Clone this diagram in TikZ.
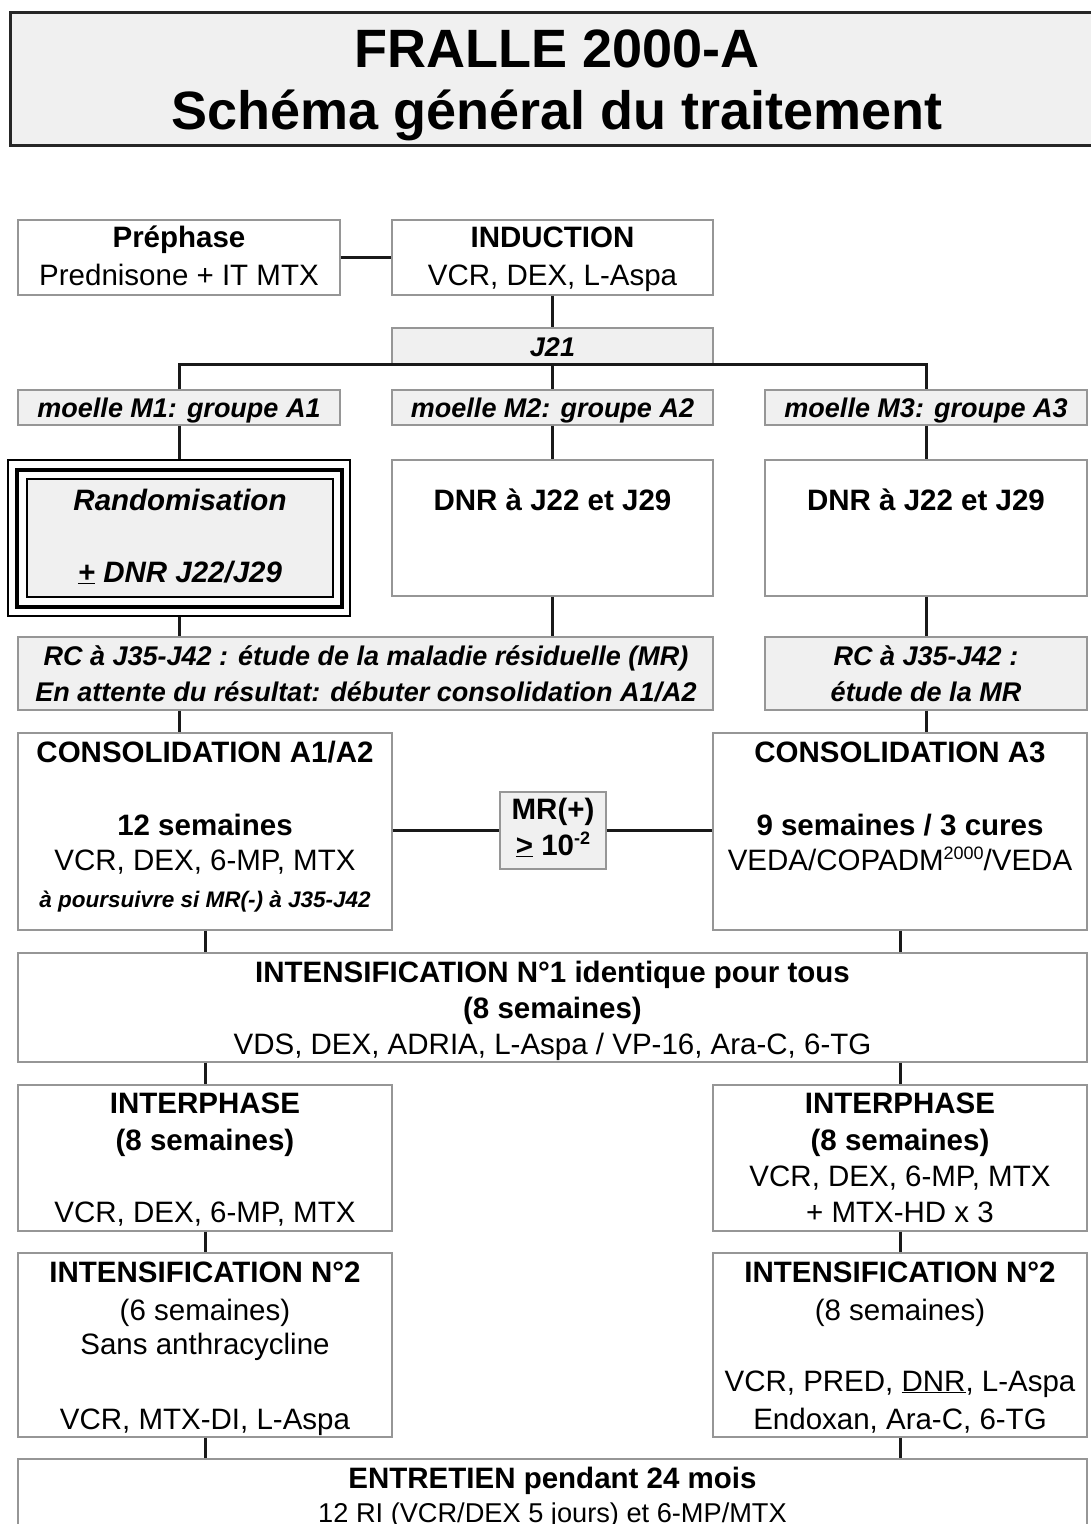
\documentclass[tikz,border=0pt]{standalone}
\usepackage{fontspec}
\setmainfont{Liberation Sans}
\definecolor{boxgray}{RGB}{240,240,240}
\definecolor{edgegray}{RGB}{150,150,150}
\tikzset{
  box/.style={draw=edgegray, line width=1.3pt, fill=white, inner sep=0pt, rectangle},
  gbox/.style={box, fill=boxgray},
  conn/.style={line width=3pt, black!90},
  tline/.style={anchor=base, inner sep=0pt, font=\fontsize{29.5}{36}\selectfont},
  bline/.style={tline, font=\fontsize{29.5}{36}\selectfont\bfseries},
  iline/.style={tline, font=\fontsize{27}{33}\selectfont\bfseries\itshape},
  riline/.style={tline, font=\fontsize{29.5}{36}\selectfont\bfseries\itshape},
  noteline/.style={tline, font=\fontsize{22.5}{27}\selectfont\bfseries\itshape},
}
\newcommand{\mysup}[1]{\raisebox{11pt}{\fontsize{18}{18}\selectfont #1}}
\begin{document}
\begin{tikzpicture}[x=1pt,y=-1pt]
\useasboundingbox (0,0) rectangle (1091,1524);
\clip (0,0) rectangle (1091,1524);
% title
\node[draw=black!85, line width=3pt, fill=boxgray, minimum width=1094pt, minimum height=133pt, inner sep=0pt] (title) at (557,78.5) {};
\node[tline, font=\fontsize{54}{60}\selectfont\bfseries] (title1) at (557,67) {FRALLE 2000-A};
\node[tline, font=\fontsize{54}{60}\selectfont\bfseries] (title2) at (557,129) {Schéma général du traitement};
% boxes
\node[box, minimum width=322pt, minimum height=75pt] (pre) at (179,257.5) {};
\node[box, minimum width=321pt, minimum height=75pt] (ind) at (552.5,257.5) {};
\node[gbox, minimum width=321pt, minimum height=36pt] (j21) at (552.5,346) {};
\node[gbox, minimum width=322pt, minimum height=35pt] (m1) at (179,407.5) {};
\node[gbox, minimum width=321pt, minimum height=35pt] (m2) at (552.5,407.5) {};
\node[gbox, minimum width=322pt, minimum height=35pt] (m3) at (926,407.5) {};
\node[draw=black, line width=1.6pt, fill=white, inner sep=0pt, minimum width=342pt, minimum height=156pt] (rand) at (179,538) {};
\node[draw=black, line width=3.6pt, fill=white, inner sep=0pt, minimum width=325pt, minimum height=137pt] (randm) at (179.5,538.5) {};
\node[draw=black, line width=1.6pt, fill=boxgray, inner sep=0pt, minimum width=306pt, minimum height=118pt] (randi) at (180,538) {};
\node[box, minimum width=321pt, minimum height=136pt] (dnr2) at (552.5,528) {};
\node[box, minimum width=322pt, minimum height=136pt] (dnr3) at (926,528) {};
\node[gbox, minimum width=695pt, minimum height=73pt] (rcL) at (365.5,673.5) {};
\node[gbox, minimum width=322pt, minimum height=73pt] (rcR) at (926,673.5) {};
\node[box, minimum width=374pt, minimum height=197pt] (consL) at (205,831.5) {};
\node[box, minimum width=374pt, minimum height=197pt] (consR) at (900,831.5) {};
\node[gbox, minimum width=106pt, minimum height=77pt] (mr) at (553,830.5) {};
\node[box, minimum width=1069pt, minimum height=109pt] (int1) at (552.5,1007.5) {};
\node[box, minimum width=374pt, minimum height=146pt] (ipL) at (205,1158) {};
\node[box, minimum width=374pt, minimum height=146pt] (ipR) at (900,1158) {};
\node[box, minimum width=374pt, minimum height=184pt] (i2L) at (205,1345) {};
\node[box, minimum width=374pt, minimum height=184pt] (i2R) at (900,1345) {};
\node[box, minimum width=1069pt, minimum height=101pt] (ent) at (552.5,1509.5) {};
% connectors
\draw[conn] (pre.east) -- (ind.west);
\draw[conn] (ind.south) -- (j21.north);
\draw[conn] (m1.north) |- (j21.south) -| (m3.north);
\draw[conn] (j21.south) -- (m2.north);
\draw[conn] (m1.south) -- (rand.north);
\draw[conn] (m2.south) -- (dnr2.north);
\draw[conn] (m3.south) -- (dnr3.north);
\draw[conn] (rand.south) -- (rand.south |- rcL.north);
\draw[conn] (dnr2.south) -- (dnr2.south |- rcL.north);
\draw[conn] (dnr3.south) -- (rcR.north);
\draw[conn] (rand.south |- rcL.south) -- (rand.south |- consL.north);
\draw[conn] (rcR.south) -- (rcR.south |- consR.north);
\draw[conn] (consL.east |- mr.west) -- (mr.west);
\draw[conn] (mr.east) -- (consR.west |- mr.east);
\draw[conn] (consL.south) -- (consL.south |- int1.north);
\draw[conn] (consR.south) -- (consR.south |- int1.north);
\draw[conn] (ipL.north |- int1.south) -- (ipL.north);
\draw[conn] (ipR.north |- int1.south) -- (ipR.north);
\draw[conn] (ipL.south) -- (i2L.north);
\draw[conn] (ipR.south) -- (i2R.north);
\draw[conn] (i2L.south) -- (i2L.south |- ent.north);
\draw[conn] (i2R.south) -- (i2R.south |- ent.north);
% texts
\node[bline] (tpre1) at (179,247) {Préphase};
\node[tline] (tpre2) at (179,285) {Prednisone + IT MTX};
\node[bline] (tind1) at (552.5,247) {INDUCTION};
\node[tline] (tind2) at (552.5,285) {VCR, DEX, L-Aspa};
\node[iline] (tj21) at (552.5,356) {J21};
\node[iline] (tm1) at (179,417) {moelle M1: groupe A1};
\node[iline] (tm2) at (552.5,417) {moelle M2: groupe A2};
\node[iline] (tm3) at (926,417) {moelle M3: groupe A3};
\node[riline] (trand1) at (180,510) {Randomisation};
\node[riline] (trand2) at (180,582) {\underline{+} DNR J22/J29};
\node[bline] (tdnr2) at (552.5,510) {DNR à J22 et J29};
\node[bline] (tdnr3) at (926,510) {DNR à J22 et J29};
\node[iline] (trcL1) at (366,665) {RC à J35-J42 : étude de la maladie résiduelle (MR)};
\node[iline] (trcL2) at (366,701) {En attente du résultat: débuter consolidation A1/A2};
\node[iline] (trcR1) at (926,665) {RC à J35-J42 :};
\node[iline] (trcR2) at (926,701) {étude de la MR};
\node[bline] (tcL1) at (205,762) {CONSOLIDATION A1/A2};
\node[bline] (tcL2) at (205,835) {12 semaines};
\node[tline] (tcL3) at (205,870) {VCR, DEX, 6-MP, MTX};
\node[noteline] (tcL4) at (205,907) {à poursuivre si MR(-) à J35-J42};
\node[bline] (tcR1) at (900,762) {CONSOLIDATION A3};
\node[bline] (tcR2) at (900,835) {9 semaines / 3 cures};
\node[tline] (tcR3) at (900,870) {VEDA/COPADM\mysup{2000}/VEDA};
\node[bline] (tmr1) at (553,819) {MR(+)};
\node[bline] (tmr2) at (553,855) {\underline{>} 10\mysup{\bfseries -2}};
\node[bline] (ti11) at (552.5,982) {INTENSIFICATION N°1 identique pour tous};
\node[bline] (ti12) at (552.5,1018) {(8 semaines)};
\node[tline] (ti13) at (552.5,1054) {VDS, DEX, ADRIA, L-Aspa / VP-16, Ara-C, 6-TG};
\node[bline] (tipL1) at (205,1113) {INTERPHASE};
\node[bline] (tipL2) at (205,1150) {(8 semaines)};
\node[tline] (tipL3) at (205,1222) {VCR, DEX, 6-MP, MTX};
\node[bline] (tipR1) at (900,1113) {INTERPHASE};
\node[bline] (tipR2) at (900,1150) {(8 semaines)};
\node[tline] (tipR3) at (900,1186) {VCR, DEX, 6-MP, MTX};
\node[tline] (tipR4) at (900,1222) {+ MTX-HD x 3};
\node[bline] (ti2L1) at (205,1282) {INTENSIFICATION N°2};
\node[tline] (ti2L2) at (205,1320) {(6 semaines)};
\node[tline] (ti2L3) at (205,1354) {Sans anthracycline};
\node[tline] (ti2L4) at (205,1429) {VCR, MTX-DI, L-Aspa};
\node[bline] (ti2R1) at (900,1282) {INTENSIFICATION N°2};
\node[tline] (ti2R2) at (900,1320) {(8 semaines)};
\node[tline] (ti2R3) at (900,1391) {VCR, PRED, \underline{DNR}, L-Aspa};
\node[tline] (ti2R4) at (900,1429) {Endoxan, Ara-C, 6-TG};
\node[bline] (tent1) at (552.5,1488) {ENTRETIEN pendant 24 mois};
\node[tline, font=\fontsize{27.2}{32}\selectfont] (tent2) at (552.5,1522) {12 RI (VCR/DEX 5 jours) et 6-MP/MTX};
\end{tikzpicture}
\end{document}
